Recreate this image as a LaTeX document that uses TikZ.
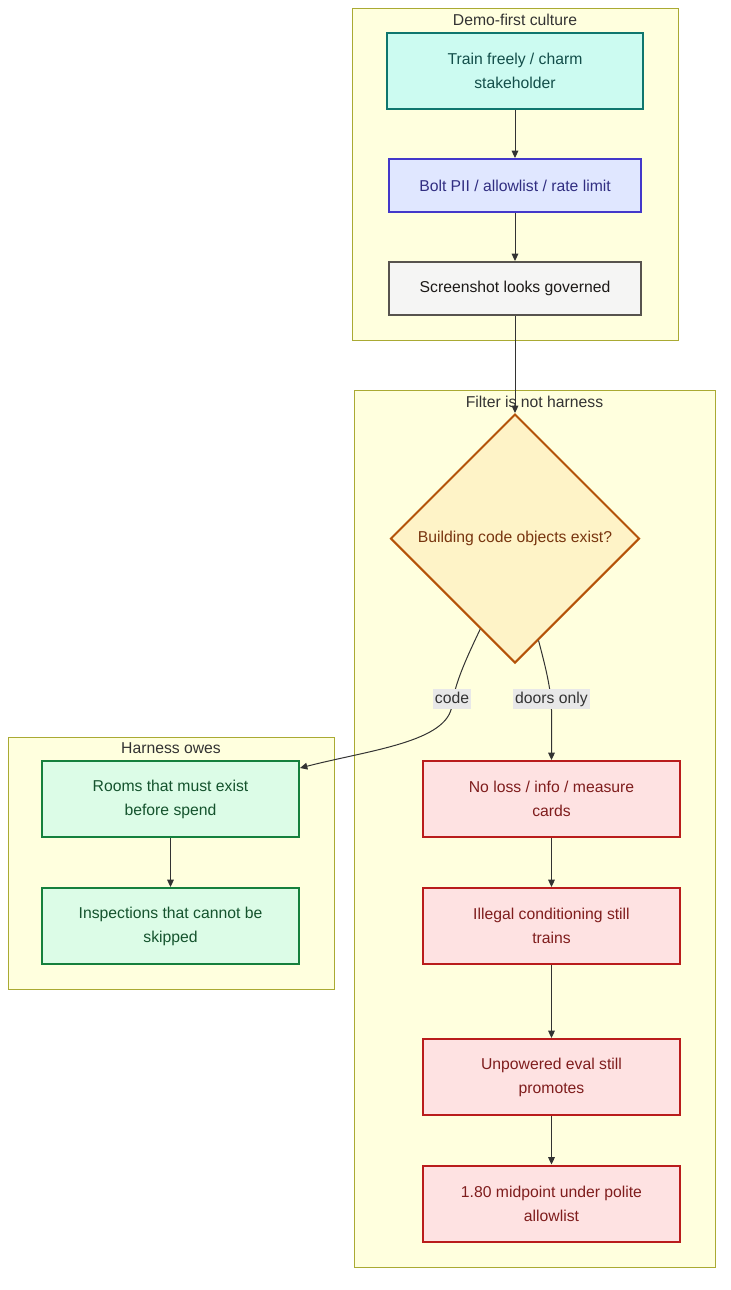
\documentclass[tikz,border=0pt]{standalone}
\usepackage{fontspec}
\setmainfont{Liberation Sans}
\usetikzlibrary{shapes.geometric,arrows.meta}
\definecolor{clfill}{HTML}{FFFFDE}
\definecolor{clline}{HTML}{AAAA33}
\definecolor{txt}{HTML}{333333}
\definecolor{tealf}{HTML}{CCFBF1}\definecolor{teals}{HTML}{0F766E}\definecolor{tealt}{HTML}{134E4A}
\definecolor{indf}{HTML}{E0E7FF}\definecolor{inds}{HTML}{4338CA}\definecolor{indt}{HTML}{312E81}
\definecolor{greyf}{HTML}{F5F5F4}\definecolor{greys}{HTML}{57534E}\definecolor{greyt}{HTML}{1C1917}
\definecolor{ambf}{HTML}{FEF3C7}\definecolor{ambs}{HTML}{B45309}\definecolor{ambt}{HTML}{78350F}
\definecolor{grnf}{HTML}{DCFCE7}\definecolor{grns}{HTML}{15803D}\definecolor{grnt}{HTML}{14532D}
\definecolor{redf}{HTML}{FEE2E2}\definecolor{reds}{HTML}{B91C1C}\definecolor{redt}{HTML}{7F1D1D}
\definecolor{lblf}{HTML}{E8E8E8}
\begin{document}
\begin{tikzpicture}[x=0.75pt,y=-0.75pt,
  every node/.style={font=\fontsize{11.8pt}{18pt}\selectfont},
  cluster/.style={draw=clline,fill=clfill,line width=0.75pt},
  ctitle/.style={text=txt,inner sep=0pt},
  box/.style={rectangle,line width=1.5pt,align=center,inner sep=0pt,minimum width=192pt,minimum height=57pt},
  tealbox/.style={box,draw=teals,fill=tealf,text=tealt},
  indbox/.style={box,draw=inds,fill=indf,text=indt,minimum width=189pt,minimum height=39.75pt},
  greybox/.style={box,draw=greys,fill=greyf,text=greyt,minimum width=189pt,minimum height=39.75pt},
  grnbox/.style={box,draw=grns,fill=grnf,text=grnt,minimum width=192.75pt},
  redbox/.style={box,draw=reds,fill=redf,text=redt,minimum width=192.75pt},
  decision/.style={diamond,aspect=1,line width=1.5pt,draw=ambs,fill=ambf,text=ambt,minimum width=186.75pt,minimum height=186.75pt,inner sep=0pt},
  edge/.style={draw=txt,line width=0.75pt,-{Triangle[length=5.5pt,width=5pt]}},
  elabel/.style={fill=lblf,text=txt,inner sep=1.5pt,text height=9pt,text depth=2.5pt}
]
\useasboundingbox (0,0) rectangle (731,1290);
% clusters
\draw[cluster] (352,8) rectangle (678,340);
\node[ctitle] (t1) at (515,20) {Demo-first culture};
\draw[cluster] (354,390) rectangle (715,1267);
\node[ctitle] (t2) at (534.5,402) {Filter is not harness};
\draw[cluster] (8,737) rectangle (334,989);
\node[ctitle] (t3) at (171,748) {Harness owes};
% nodes
\node[tealbox] (A) at (515,71) {Train freely / charm\\stakeholder};
\node[indbox] (B) at (515,185.5) {Bolt PII / allowlist / rate limit};
\node[greybox] (C) at (515,288.5) {Screenshot looks governed};
\node[decision] (D) at (515,538.5) {\raisebox{-1.5pt}{Building code objects exist?}};
\node[grnbox] (H1) at (170.5,799) {Rooms that must exist\\before spend};
\node[grnbox] (H2) at (170.5,926) {Inspections that cannot be\\skipped};
\node[redbox] (R1) at (551.5,799) {No loss / info / measure\\cards};
\node[redbox] (R2) at (551.5,926) {Illegal conditioning still\\trains};
\node[redbox] (R3) at (551.5,1077) {Unpowered eval still\\promotes};
\node[redbox] (R4) at (551.5,1203.5) {1.80 midpoint under polite\\allowlist};
% edges
\draw[edge] (A) -- (B);
\draw[edge] (B) -- (C);
\draw[edge] (C) -- (D.north);
\draw[edge] (D.249) .. controls (468,655) and (455,682) .. (452,705)
  .. controls (448,742) and (370,750) .. ([yshift=-6pt]H1.north east);
\draw[edge] (D.283) .. controls (545,665) and (551.5,690) .. (551.5,710) -- (R1.north);
\draw[edge] (H1) -- (H2);
\draw[edge] (R1) -- (R2);
\draw[edge] (R2) -- (R3);
\draw[edge] (R3) -- (R4);
\node[elabel] (L1) at (452,699) {code};
\node[elabel] (L2) at (551.5,699) {doors only};
\end{tikzpicture}
\end{document}
